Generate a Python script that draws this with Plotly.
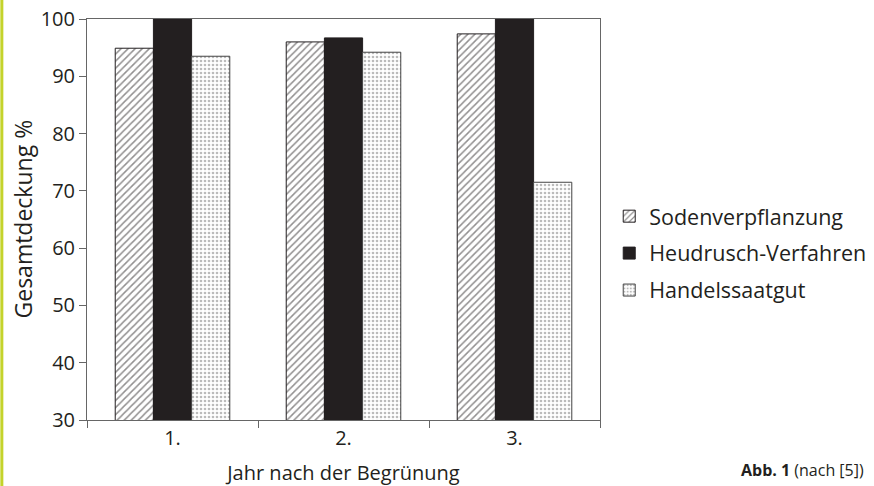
import plotly.graph_objects as go

categories = ["1.", "2.", "3."]
series_names = ["Sodenverpflanzung", "Heudrusch-Verfahren", "Handelssaatgut"]
soden = [94.9, 96.0, 97.4]
heudrusch = [100.0, 96.7, 100.0]
handels = [93.5, 94.2, 71.5]
y_ticks = [30, 40, 50, 60, 70, 80, 90, 100]

FONT = "Open Sans"
TXT = "#231f20"

fig = go.Figure()
fig.add_trace(go.Bar(
    x=categories, y=soden, name=series_names[0], legendgroup="a",
    marker=dict(color="white", line=dict(color=TXT, width=1),
                pattern=dict(shape="/", fgcolor=TXT, bgcolor="white", size=5, solidity=0.3)),
))
fig.add_trace(go.Bar(
    x=categories, y=heudrusch, name=series_names[1], legendgroup="b",
    marker=dict(color=TXT, line=dict(color=TXT, width=1)),
))
fig.add_trace(go.Bar(
    x=categories, y=handels, name=series_names[2], legendgroup="c",
    marker=dict(color="white", line=dict(color="#444", width=1),
                pattern=dict(shape=".", fgcolor="#777", bgcolor="white", size=4, solidity=0.35)),
))

fig.update_layout(
    width=874, height=486,
    margin=dict(l=87, r=274, t=19, b=66, autoexpand=False),
    paper_bgcolor="white", plot_bgcolor="white",
    barmode="group", bargap=0.33, bargroupgap=0,
    font=dict(family=FONT, size=20, color=TXT),
    showlegend=True,
    legend=dict(x=1.018, y=0.416, xanchor="left", yanchor="middle",
                font=dict(family=FONT, size=21.5, color=TXT),
                tracegroupgap=6, bgcolor="rgba(0,0,0,0)", itemclick=False),
    xaxis=dict(
        showline=True, linecolor="#666", linewidth=1, mirror=True,
        ticks="outside", tickson="boundaries", ticklen=7, tickcolor="#666",
        tickfont=dict(size=20, color=TXT), automargin=False,
        title=dict(text="Jahr nach der Begrünung", font=dict(size=20, color=TXT)),
        showgrid=False,
    ),
    yaxis=dict(
        range=[30, 100], tickvals=y_ticks,
        showline=True, linecolor="#666", linewidth=1, mirror=True,
        ticks="outside", ticklen=7, tickcolor="#666",
        tickfont=dict(size=20, color=TXT), automargin=False,
        showgrid=False, zeroline=False,
    ),
)

fig.add_annotation(
    text="Gesamtdeckung %", xref="paper", yref="paper",
    x=(22 - 87) / 513, y=0.5, xanchor="center", yanchor="middle",
    textangle=-90, showarrow=False,
    font=dict(family=FONT, size=23, color=TXT),
)
fig.add_annotation(
    text="<b>Abb. 1</b> (nach [5])", xref="paper", yref="paper",
    x=1.5185, y=-0.125, xanchor="right", yanchor="middle", showarrow=False,
    font=dict(family=FONT, size=16, color=TXT),
)
fig.add_shape(type="line", xref="paper", yref="paper",
              x0=-0.166, x1=-0.166, y0=-0.17, y1=1.05,
              line=dict(color="#c4d32b", width=3))

fig.write_html(
    "out.html",
    config={"displayModeBar": False},
    post_script="document.body.style.margin='0';document.body.style.padding='0';window.dispatchEvent(new Event('resize'));",
)
